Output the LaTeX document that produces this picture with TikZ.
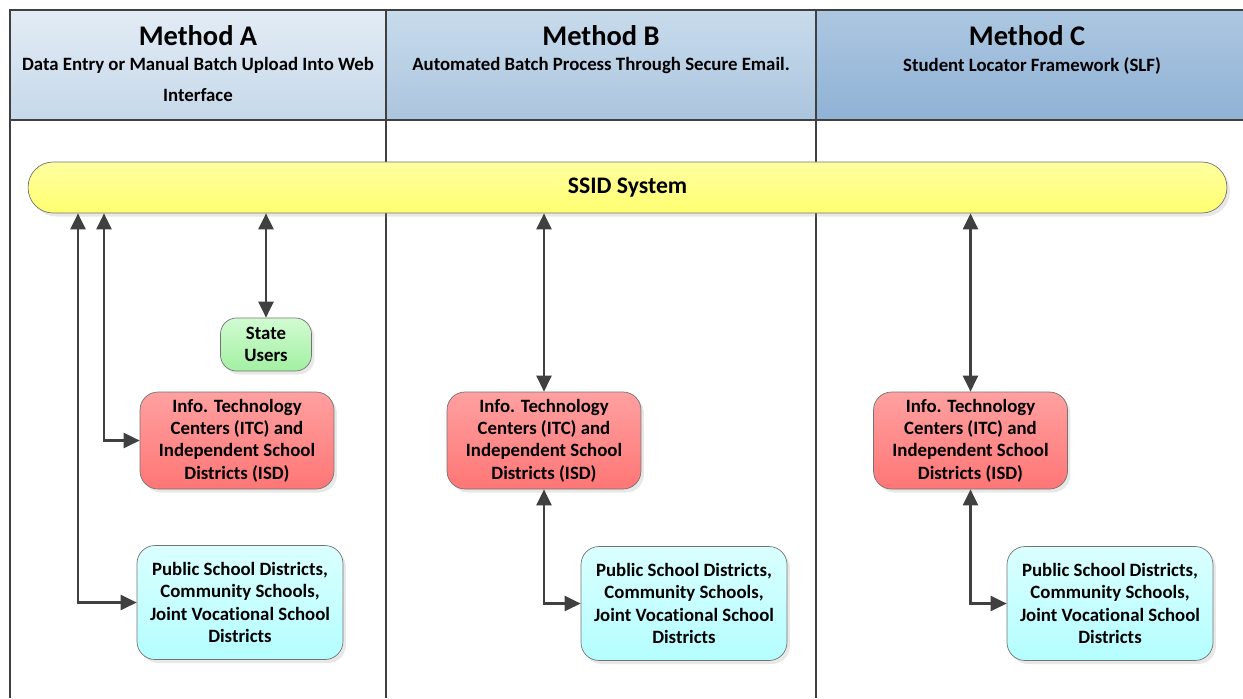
\documentclass[tikz,border=0pt]{standalone}
\usepackage{fontspec}
\setmainfont{Carlito}[Ligatures=NoCommon]
\usetikzlibrary{arrows.meta}
\usetikzlibrary{shadows}
\usetikzlibrary{positioning}
\definecolor{headAtop}{HTML}{E3ECF5}
\definecolor{headAbot}{HTML}{C6D8EA}
\definecolor{headBtop}{HTML}{C8DBEC}
\definecolor{headBbot}{HTML}{ABC5DE}
\definecolor{headCtop}{HTML}{ACC7E1}
\definecolor{headCbot}{HTML}{90B2D5}
\definecolor{ssidtop}{HTML}{FFFFA0}
\definecolor{ssidbot}{HTML}{FFFF70}
\definecolor{statetop}{HTML}{D2FBD2}
\definecolor{statebot}{HTML}{A2F0A2}
\definecolor{itctop}{HTML}{FFA0A0}
\definecolor{itcbot}{HTML}{FF7676}
\definecolor{psdtop}{HTML}{DAFFFF}
\definecolor{psdbot}{HTML}{B4FEFF}
\colorlet{framecol}{black!75}
\colorlet{boxline}{black!55}
\colorlet{arrowcol}{black!75}
\newcommand{\boxfont}{\bfseries\fontsize{10.7}{12.7}\selectfont}
\tikzset{
  box/.style={draw=boxline,align=center,font=\boxfont,inner sep=0pt,
    drop shadow={opacity=0.18,shadow xshift=0.06cm,shadow yshift=-0.07cm}},
  box state/.style={box,top color=statetop,bottom color=statebot,
    minimum width=1.82cm,minimum height=1.06cm,rounded corners=0.32cm},
  box itc/.style={box,top color=itctop,bottom color=itcbot,
    minimum width=3.88cm,minimum height=1.94cm,rounded corners=0.36cm},
  box district/.style={box,top color=psdtop,bottom color=psdbot,
    minimum width=4.12cm,minimum height=2.28cm,rounded corners=0.36cm},
  bar ssid/.style={box,top color=ssidtop,bottom color=ssidbot,
    minimum width=23.98cm,minimum height=1.02cm,rounded corners=0.5cm,
    font=\bfseries\fontsize{13.5}{15}\selectfont},
  head title/.style={font=\bfseries\fontsize{16.2}{18}\selectfont,inner sep=0pt},
  head sub/.style={font=\bfseries\fontsize{10.7}{17.6}\selectfont,align=center,inner sep=0pt,anchor=north},
  frame/.style={framecol,line width=1pt},
  connect both/.style={{Triangle[length=0.32cm,width=0.3cm]}-{Triangle[length=0.32cm,width=0.3cm]},
    arrowcol,line width=1.3pt},
}
% the two repeated boxes of every column
\newcommand{\itcbox}[2]{\node[box itc] (#1) at (#2) {Info. Technology\\Centers (ITC) and\\Independent School\\Districts (ISD)}}
\newcommand{\districtbox}[2]{\node[box district] (#1) at (#2) {Public School Districts,\\Community Schools,\\Joint Vocational School\\Districts}}

\begin{document}
\begin{tikzpicture}[x=0.02cm,y=-0.02cm]
  \useasboundingbox (0,0) rectangle (1243,698);

  % header cells
  \shade[top color=headAtop,bottom color=headAbot] (10,10) rectangle (386,120);
  \shade[top color=headBtop,bottom color=headBbot] (386,10) rectangle (816,120);
  \shade[top color=headCtop,bottom color=headCbot] (816,10) rectangle (1243,120);
  \draw[frame] (10,698) -- (10,10) -- (1243,10);
  \draw[frame] (10,120) -- (1243,120);
  \draw[frame] (386,10) -- (386,698);
  \draw[frame] (816,10) -- (816,698);

  \node[head title] (titleA) at (198,36) {Method A};
  \node[head sub] (subA) at (198,57) {Data Entry or Manual Batch Upload Into Web\\Interface};
  \node[head title] (titleB) at (601,36) {Method B};
  \node[head sub] (subB) at (601,57) {Automated Batch Process Through Secure Email.};
  \node[head title] (titleC) at (1027,36) {Method C};
  \node[head sub] (subC) at (1032,57) {Student Locator Framework (SLF)};

  % system bar
  \node[bar ssid] (ssid) at (627.5,187.5) {SSID System};

  % method A
  \node[box state] (state) at (266,344.5) {State\\Users};
  \itcbox{itcA}{237,440.5};
  \districtbox{psdA}{240,602.5};
  % method B
  \itcbox{itcB}{544,440.5};
  \districtbox{psdB}{684,603.5};
  % method C
  \itcbox{itcC}{970.5,440.5};
  \districtbox{psdC}{1110,603.5};

  % connectors
  \coordinate (feedA1) at (78,0);
  \coordinate (feedA2) at (104,0);
  \draw[connect both] (ssid.south -| feedA1) |- (psdA.west);
  \draw[connect both] (ssid.south -| feedA2) |- (itcA.west);
  \draw[connect both] (ssid.south -| state.north) -- (state.north);
  \draw[connect both] (ssid.south -| itcB.north) -- (itcB.north);
  \draw[connect both] (itcB.south) |- (psdB.west);
  \draw[connect both] (ssid.south -| itcC.north) -- (itcC.north);
  \draw[connect both] (itcC.south) |- (psdC.west);
\end{tikzpicture}
\end{document}
